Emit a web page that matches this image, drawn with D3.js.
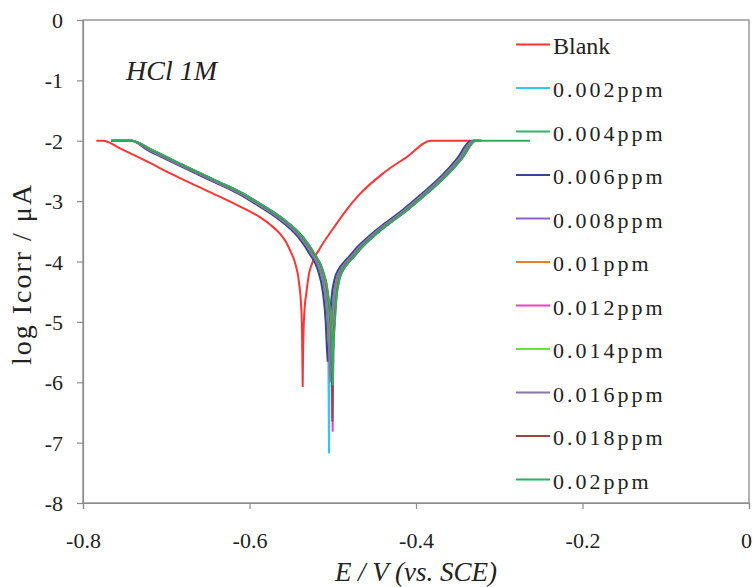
<!DOCTYPE html>
<html>
<head>
<meta charset="utf-8">
<script src="https://cdn.jsdelivr.net/npm/d3@7"></script>
<style>
  html, body { margin: 0; padding: 0; background: #fff; }
  svg { display: block; }
  text { font-family: "Liberation Serif", "Times New Roman", serif; fill: #222; }
</style>
</head>
<body>
<svg id="chart" width="753" height="587"></svg>
<script>
// Polarisation curves in HCl 1M: potential E (V vs. SCE) against log Icorr
const xTicks = [-0.8, -0.6, -0.4, -0.2, 0];
const yTicks = [0, -1, -2, -3, -4, -5, -6, -7, -8];

const seriesNames = ["Blank", "0.002ppm", "0.004ppm", "0.006ppm", "0.008ppm", "0.01ppm",
                     "0.012ppm", "0.014ppm", "0.016ppm", "0.018ppm", "0.02ppm"];
const seriesColors = ["#ff3333", "#33c6f5", "#33b36b", "#2f4b8a", "#8f5fc8", "#f47c20",
                      "#f040c0", "#5ee83a", "#8677a8", "#9b4444", "#29b062"];

// [E, log I] pairs, cathodic branch first, then anodic branch
const blank = [[-0.784,-2.0],[-0.776,-2.0],[-0.755,-2.13],[-0.725,-2.33],[-0.695,-2.54],[-0.665,-2.74],
  [-0.635,-2.93],[-0.611,-3.09],[-0.587,-3.27],[-0.575,-3.39],[-0.5634,-3.54],[-0.556,-3.68],
  [-0.5505,-3.84],[-0.5453,-4.02],[-0.5405,-4.35],[-0.5375,-4.86],[-0.5366,-5.5],[-0.5361,-6.08],
  [-0.5356,-5.5],[-0.5342,-4.86],[-0.5315,-4.5],[-0.5285,-4.2],[-0.5253,-4.05],[-0.5153,-3.78],
  [-0.4993,-3.45],[-0.4832,-3.14],[-0.4693,-2.91],[-0.4396,-2.54],[-0.4112,-2.27],[-0.382,-2.0],
  [-0.335,-2.0]];

const ppm002 = [[-0.766,-2.0],[-0.742,-2.0],[-0.7215,-2.15],[-0.6965,-2.32],[-0.6695,-2.5],[-0.6415,-2.68],
  [-0.6125,-2.87],[-0.5885,-3.07],[-0.5645,-3.29],[-0.5405,-3.59],[-0.5265,-3.87],[-0.5165,-4.14],
  [-0.5105,-4.5],[-0.507,-5.0],[-0.5053,-5.5],[-0.5045,-7.18],[-0.5037,-5.5],[-0.502,-5.0],
  [-0.5,-4.6],[-0.4965,-4.3],[-0.491,-4.12],[-0.485,-4.01],[-0.479,-3.92],[-0.469,-3.76],
  [-0.455,-3.58],[-0.439,-3.4],[-0.415,-3.15],[-0.391,-2.87],[-0.367,-2.57],[-0.3495,-2.3],
  [-0.3325,-2.0],[-0.3255,-2.0]];

const ppm004 = [[-0.766,-2.0],[-0.742,-2.0],[-0.7195,-2.15],[-0.6945,-2.32],[-0.6675,-2.5],[-0.6395,-2.68],
  [-0.6105,-2.87],[-0.5865,-3.07],[-0.5625,-3.29],[-0.5385,-3.59],[-0.5245,-3.87],[-0.5145,-4.14],
  [-0.5085,-4.5],[-0.505,-5.0],[-0.5033,-5.5],[-0.5025,-5.9],[-0.5017,-5.5],[-0.5,-5.0],
  [-0.498,-4.6],[-0.4945,-4.3],[-0.489,-4.12],[-0.483,-4.01],[-0.477,-3.92],[-0.467,-3.76],
  [-0.453,-3.58],[-0.437,-3.4],[-0.413,-3.15],[-0.389,-2.87],[-0.365,-2.57],[-0.3475,-2.3],
  [-0.3305,-2.0],[-0.3235,-2.0]];

const ppm006 = [[-0.766,-2.0],[-0.742,-2.0],[-0.723,-2.15],[-0.698,-2.32],[-0.671,-2.5],[-0.643,-2.68],
  [-0.614,-2.87],[-0.59,-3.07],[-0.566,-3.29],[-0.542,-3.59],[-0.528,-3.87],[-0.518,-4.14],
  [-0.512,-4.5],[-0.5085,-5.0],[-0.5068,-5.5],[-0.506,-5.66],[-0.5052,-5.5],[-0.5035,-5.0],
  [-0.5015,-4.6],[-0.498,-4.3],[-0.4925,-4.12],[-0.4865,-4.01],[-0.4805,-3.92],[-0.4705,-3.76],
  [-0.4565,-3.58],[-0.4405,-3.4],[-0.4165,-3.15],[-0.3925,-2.87],[-0.3685,-2.57],[-0.351,-2.3],
  [-0.334,-2.0],[-0.327,-2.0]];

const ppm008 = [[-0.766,-2.0],[-0.742,-2.0],[-0.7197,-2.15],[-0.6947,-2.32],[-0.6677,-2.5],[-0.6397,-2.68],
  [-0.6107,-2.87],[-0.5867,-3.07],[-0.5627,-3.29],[-0.5387,-3.59],[-0.5247,-3.87],[-0.5147,-4.14],
  [-0.5087,-4.5],[-0.5052,-5.0],[-0.5035,-5.5],[-0.5027,-6.0],[-0.5019,-5.5],[-0.5002,-5.0],
  [-0.4982,-4.6],[-0.4947,-4.3],[-0.4892,-4.12],[-0.4832,-4.01],[-0.4772,-3.92],[-0.4672,-3.76],
  [-0.4532,-3.58],[-0.4372,-3.4],[-0.4132,-3.15],[-0.3892,-2.87],[-0.3652,-2.57],[-0.3477,-2.3],
  [-0.3307,-2.0],[-0.3237,-2.0]];

const ppm010 = [[-0.766,-2.0],[-0.742,-2.0],[-0.72,-2.15],[-0.695,-2.32],[-0.668,-2.5],[-0.64,-2.68],
  [-0.611,-2.87],[-0.587,-3.07],[-0.563,-3.29],[-0.539,-3.59],[-0.525,-3.87],[-0.515,-4.14],
  [-0.509,-4.5],[-0.5055,-5.0],[-0.5038,-5.5],[-0.503,-5.8],[-0.5022,-5.5],[-0.5005,-5.0],
  [-0.4985,-4.6],[-0.495,-4.3],[-0.4895,-4.12],[-0.4835,-4.01],[-0.4775,-3.92],[-0.4675,-3.76],
  [-0.4535,-3.58],[-0.4375,-3.4],[-0.4135,-3.15],[-0.3895,-2.87],[-0.3655,-2.57],[-0.348,-2.3],
  [-0.331,-2.0],[-0.324,-2.0]];

const ppm012 = [[-0.766,-2.0],[-0.742,-2.0],[-0.7171,-2.15],[-0.6921,-2.32],[-0.6651,-2.5],[-0.6371,-2.68],
  [-0.6081,-2.87],[-0.5841,-3.07],[-0.5601,-3.29],[-0.5361,-3.59],[-0.5221,-3.87],[-0.5121,-4.14],
  [-0.5061,-4.5],[-0.5026,-5.0],[-0.5009,-5.5],[-0.5001,-6.82],[-0.4993,-5.5],[-0.4976,-5.0],
  [-0.4956,-4.6],[-0.4921,-4.3],[-0.4866,-4.12],[-0.4806,-4.01],[-0.4746,-3.92],[-0.4646,-3.76],
  [-0.4506,-3.58],[-0.4346,-3.4],[-0.4106,-3.15],[-0.3866,-2.87],[-0.3626,-2.57],[-0.3451,-2.3],
  [-0.3281,-2.0],[-0.3211,-2.0]];

const ppm014 = [[-0.766,-2.0],[-0.742,-2.0],[-0.718,-2.15],[-0.693,-2.32],[-0.666,-2.5],[-0.638,-2.68],
  [-0.609,-2.87],[-0.585,-3.07],[-0.561,-3.29],[-0.537,-3.59],[-0.523,-3.87],[-0.513,-4.14],
  [-0.507,-4.5],[-0.5035,-5.0],[-0.5018,-5.5],[-0.501,-6.1],[-0.5002,-5.5],[-0.4985,-5.0],
  [-0.4965,-4.6],[-0.493,-4.3],[-0.4875,-4.12],[-0.4815,-4.01],[-0.4755,-3.92],[-0.4655,-3.76],
  [-0.4515,-3.58],[-0.4355,-3.4],[-0.4115,-3.15],[-0.3875,-2.87],[-0.3635,-2.57],[-0.346,-2.3],
  [-0.329,-2.0],[-0.322,-2.0]];

const ppm016 = [[-0.766,-2.0],[-0.742,-2.0],[-0.7205,-2.15],[-0.6955,-2.32],[-0.6685,-2.5],[-0.6405,-2.68],
  [-0.6115,-2.87],[-0.5875,-3.07],[-0.5635,-3.29],[-0.5395,-3.59],[-0.5255,-3.87],[-0.5155,-4.14],
  [-0.5095,-4.5],[-0.506,-5.0],[-0.5043,-5.5],[-0.5035,-5.9],[-0.5027,-5.5],[-0.501,-5.0],
  [-0.499,-4.6],[-0.4955,-4.3],[-0.49,-4.12],[-0.484,-4.01],[-0.478,-3.92],[-0.468,-3.76],
  [-0.454,-3.58],[-0.438,-3.4],[-0.414,-3.15],[-0.39,-2.87],[-0.366,-2.57],[-0.3485,-2.3],
  [-0.3315,-2.0],[-0.3245,-2.0]];

const ppm018 = [[-0.766,-2.0],[-0.742,-2.0],[-0.7175,-2.15],[-0.6925,-2.32],[-0.6655,-2.5],[-0.6375,-2.68],
  [-0.6085,-2.87],[-0.5845,-3.07],[-0.5605,-3.29],[-0.5365,-3.59],[-0.5225,-3.87],[-0.5125,-4.14],
  [-0.5065,-4.5],[-0.503,-5.0],[-0.5013,-5.5],[-0.5005,-6.65],[-0.4997,-5.5],[-0.498,-5.0],
  [-0.496,-4.6],[-0.4925,-4.3],[-0.487,-4.12],[-0.481,-4.01],[-0.475,-3.92],[-0.465,-3.76],
  [-0.451,-3.58],[-0.435,-3.4],[-0.411,-3.15],[-0.387,-2.87],[-0.363,-2.57],[-0.3455,-2.3],
  [-0.3285,-2.0],[-0.3215,-2.0]];

const ppm020 = [[-0.766,-2.0],[-0.742,-2.0],[-0.717,-2.15],[-0.692,-2.32],[-0.665,-2.5],[-0.637,-2.68],
  [-0.608,-2.87],[-0.584,-3.07],[-0.56,-3.29],[-0.536,-3.59],[-0.522,-3.87],[-0.512,-4.14],
  [-0.506,-4.5],[-0.5025,-5.0],[-0.5008,-5.5],[-0.5,-6.05],[-0.4992,-5.5],[-0.4975,-5.0],
  [-0.4955,-4.6],[-0.492,-4.3],[-0.4865,-4.12],[-0.4805,-4.01],[-0.4745,-3.92],[-0.4645,-3.76],
  [-0.4505,-3.58],[-0.4345,-3.4],[-0.4105,-3.15],[-0.3865,-2.87],[-0.3625,-2.57],[-0.345,-2.3],
  [-0.328,-2.0],[-0.263,-2.0]];

const seriesData = [blank, ppm002, ppm004, ppm006, ppm008, ppm010,
                    ppm012, ppm014, ppm016, ppm018, ppm020];

const svg = d3.select("#chart");
const plot = { left: 83, right: 749, top: 20, bottom: 503 };

const x = d3.scaleLinear().domain([-0.8, 0]).range([plot.left, plot.right]);
const y = d3.scaleLinear().domain([-8, 0]).range([plot.bottom, plot.top]);

// plot-area frame
svg.append("rect")
  .attr("x", plot.left).attr("y", plot.top)
  .attr("width", plot.right - plot.left).attr("height", plot.bottom - plot.top)
  .attr("fill", "none").attr("stroke", "#7f7f7f").attr("stroke-width", 1.2);

// y axis
const yAxis = svg.append("g")
  .attr("transform", `translate(${plot.left},0)`)
  .call(d3.axisLeft(y).tickValues(yTicks).tickSize(6).tickFormat(d3.format("d")));
yAxis.select(".domain").attr("stroke", "#8c8c8c").attr("stroke-width", 1.2);
yAxis.selectAll(".tick line").attr("stroke", "#8c8c8c").attr("stroke-width", 1.2);
yAxis.selectAll(".tick text")
  .attr("x", -20).attr("dy", null).attr("y", 7.5)
  .style("font-family", "'Liberation Serif', serif").style("font-size", "22px")
  .attr("fill", "#222").text(d => d === 0 ? "0" : "-" + Math.abs(d));

// x axis
const xAxis = svg.append("g")
  .attr("transform", `translate(0,${plot.bottom})`)
  .call(d3.axisBottom(x).tickValues(xTicks).tickSize(6)
        .tickFormat(d => d === 0 ? "0" : "-" + d3.format(".1f")(Math.abs(d))));
xAxis.select(".domain").attr("stroke", "#8c8c8c").attr("stroke-width", 1.2);
xAxis.selectAll(".tick line").attr("stroke", "#8c8c8c").attr("stroke-width", 1.2);
xAxis.selectAll(".tick text")
  .attr("y", 45).attr("dy", null)
  .attr("x", d => d === 0 ? -3 : 0)
  .style("font-family", "'Liberation Serif', serif").style("font-size", "22px")
  .attr("fill", "#222");

// each curve = cathodic branch down to the corrosion spike + anodic branch back up,
// both monotone in E so the curve never overshoots the plateaus
const branch = d3.line()
  .x(d => x(d[0])).y(d => y(d[1]))
  .curve(d3.curveMonotoneX);

function curvePath(pts) {
  const k = d3.minIndex(pts, d => d[1]);
  return branch(pts.slice(0, k + 1)) + branch(pts.slice(k));
}

const curves = svg.append("g").attr("class", "curves");
seriesData.forEach((pts, i) => {
  curves.append("path")
    .attr("d", curvePath(pts))
    .attr("fill", "none")
    .attr("stroke", seriesColors[i])
    .attr("stroke-width", 2)
    .attr("stroke-linejoin", "round");
});

// medium annotation
svg.append("text")
  .attr("x", 126).attr("y", 80)
  .style("font-size", "28px").style("font-style", "italic")
  .text("HCl 1M");

// legend
const legend = svg.append("g").attr("class", "legend");
seriesNames.forEach((name, i) => {
  const ly = 44.5 + i * 43.5;
  legend.append("line")
    .attr("x1", 516).attr("x2", 550).attr("y1", ly).attr("y2", ly)
    .attr("stroke", seriesColors[i]).attr("stroke-width", 2);
  legend.append("text")
    .attr("x", 553).attr("y", ly + 9)
    .style("font-size", i === 0 ? "24px" : "22px")
    .style("letter-spacing", i === 0 ? "0px" : "3px")
    .text(name);
});

// axis titles
svg.append("text")
  .attr("transform", `translate(31,274) rotate(-90)`)
  .attr("text-anchor", "middle")
  .style("font-size", "28px")
  .style("letter-spacing", "2px")
  .text("log Icorr / μA");

svg.append("text")
  .attr("x", 416).attr("y", 581)
  .attr("text-anchor", "middle")
  .style("font-size", "27px").style("font-style", "italic")
  .text("E / V (vs. SCE)");
</script>
</body>
</html>
